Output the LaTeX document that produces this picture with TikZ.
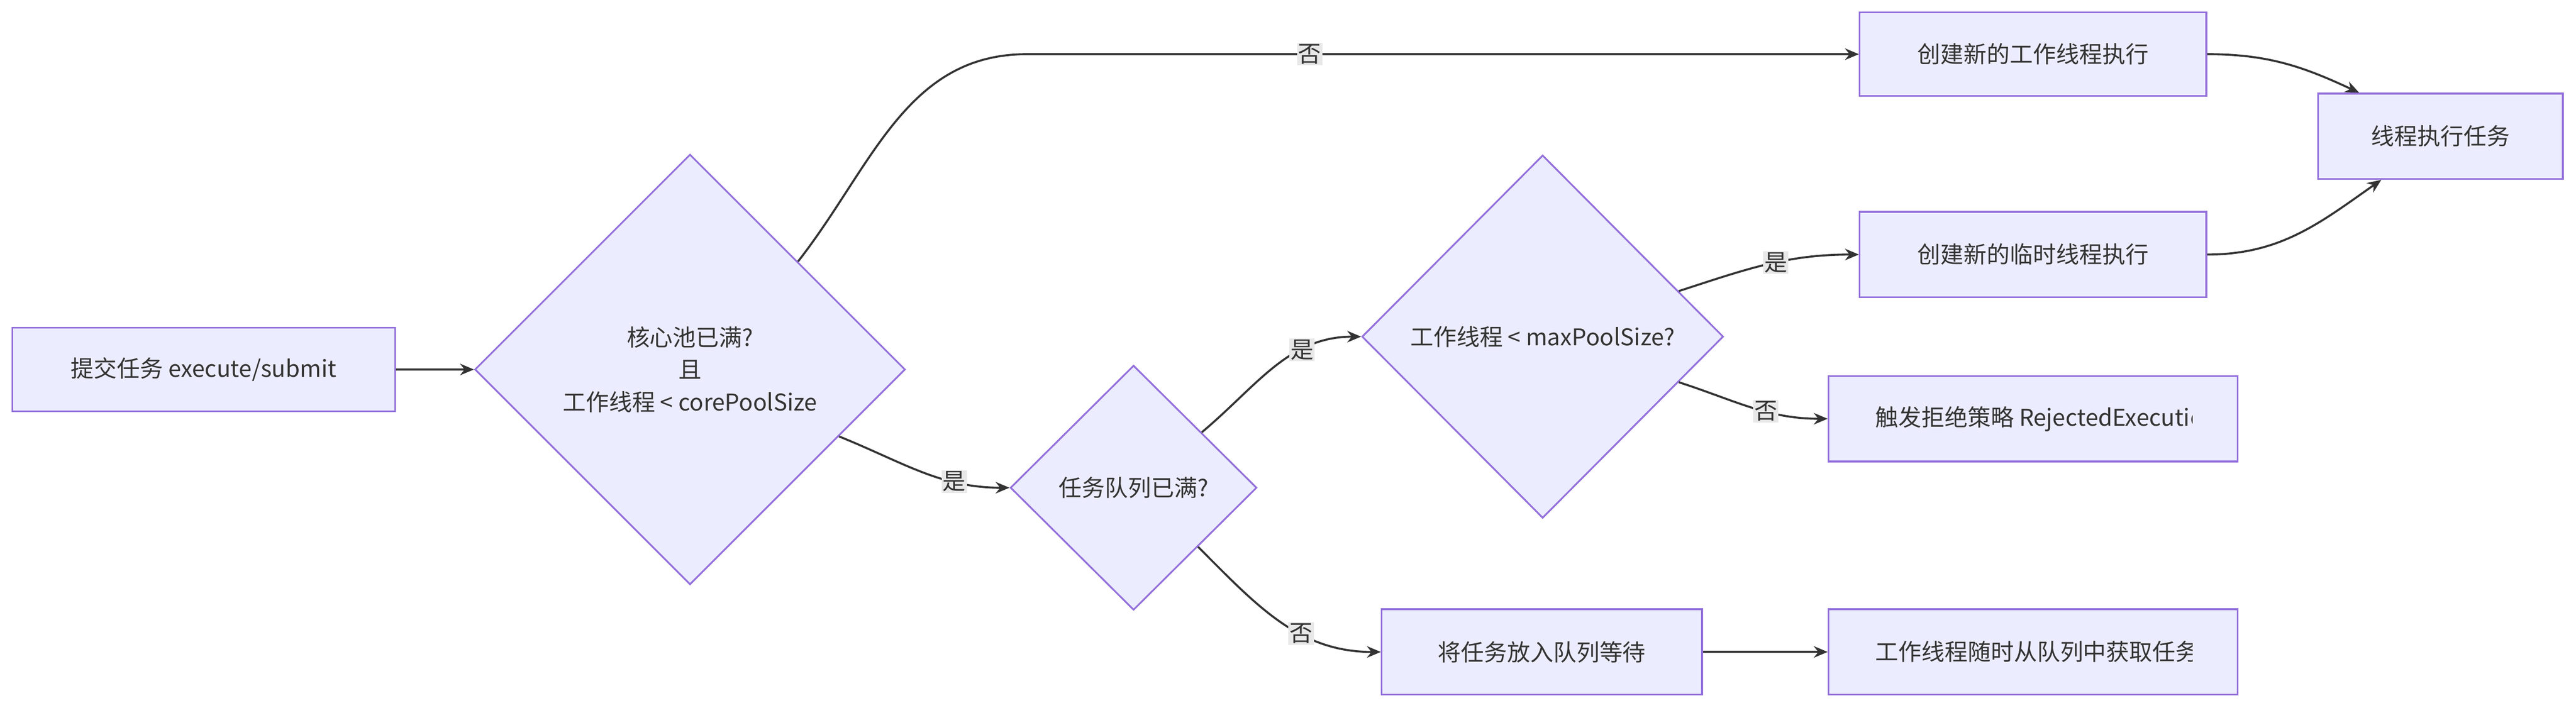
\documentclass[tikz,border=0pt]{standalone}
\usepackage{fontspec}
\setmainfont{Noto Sans CJK SC}
\usetikzlibrary{shapes.geometric,arrows.meta,calc}
\definecolor{nfill}{HTML}{ECECFF}
\definecolor{nline}{HTML}{9370DB}
\definecolor{eline}{HTML}{333333}
\definecolor{lbg}{HTML}{E8E8E8}
\begin{document}
\begin{tikzpicture}[x=0.1cm,y=0.1cm,
  every node/.style={font=\fontsize{40}{56}\selectfont, text=eline},
  box/.style={draw=nline,fill=nfill,line width=3pt,rectangle,inner sep=0},
  dia/.style={draw=nline,fill=nfill,line width=3pt,diamond,inner sep=0,align=center},
  arr/.style={draw=eline,line width=3.5pt,-{Stealth[length=24pt,width=20pt]}},
  lbl/.style={fill=lbg,inner sep=2pt}]
\useasboundingbox (0,0) rectangle (1568,431);
\fill[white] (0,0) rectangle (1568,431);
\node[box,minimum width=23.3cm,minimum height=5.1cm] (sub) at (124,206) {提交任务 execute/submit};
\node[dia,minimum width=26.2cm,minimum height=26.2cm] (d1) at (420,206) {核心池已满?\\且\\工作线程 < corePoolSize};
\node[dia,minimum width=15cm,minimum height=14.9cm] (d2) at (690,134) {任务队列已满?};
\node[dia,minimum width=22cm,minimum height=22.1cm] (d3) at (939,226) {工作线程 < maxPoolSize?};
\node[box,minimum width=21.1cm,minimum height=5.1cm] (w1) at (1237.5,398) {创建新的工作线程执行};
\node[box,minimum width=14.9cm,minimum height=5.2cm] (ex) at (1485.5,348) {线程执行任务};
\node[box,minimum width=21.1cm,minimum height=5.2cm] (tmp) at (1237.5,276) {创建新的临时线程执行};
\node[box,minimum width=24.9cm,minimum height=5.2cm] (rej) at (1237.5,176) {};
\node[box,minimum width=19.5cm,minimum height=5.2cm] (q) at (938.5,34) {将任务放入队列等待};
\node[box,minimum width=24.9cm,minimum height=5.2cm] (fe) at (1237.5,34) {};
\begin{scope}
\clip (rej.south west) rectangle ($(rej.north east)+(-28,0)$);
\node[anchor=west,inner sep=0] (rejt) at ($(rej.west)+(29,0)$) {触发拒绝策略 RejectedExecutionHandler};
\end{scope}
\begin{scope}
\clip (fe.south west) rectangle ($(fe.north east)+(-28,0)$);
\node[anchor=west,inner sep=0] (fet) at ($(fe.west)+(29,0)$) {工作线程随时从队列中获取任务};
\end{scope}
\coordinate (k1) at (625,398);
\draw[arr] (sub.east) -- (d1.west);
\draw[arr] (d1.north east) to[out=52,in=180] (k1) -- node[lbl,pos=0.34]{否} (w1.west);
\draw[arr] ($(d1.east)!0.31!(d1.south)$) to[out=-22,in=180] node[lbl,pos=0.7]{是} (d2.west);
\draw[arr] ($(d2.east)!0.45!(d2.north)$) to[out=40,in=180] node[lbl,pos=0.68]{是} (d3.west);
\draw[arr] ($(d2.east)!0.48!(d2.south)$) to[out=-45,in=180] node[lbl,pos=0.62]{否} (q.west);
\draw[arr] ($(d3.east)!0.25!(d3.north)$) to[out=18,in=180] node[lbl,pos=0.55]{是} (tmp.west);
\draw[arr] ($(d3.east)!0.25!(d3.south)$) to[out=-18,in=180] node[lbl,pos=0.6]{否} (rej.west);
\draw[arr] (q.east) -- (fe.west);
\draw[arr] (w1.east) to[out=0,in=155] ($(ex.north west)!0.17!(ex.north east)$);
\draw[arr] (tmp.east) to[out=0,in=215] ($(ex.south west)!0.26!(ex.south east)$);
\end{tikzpicture}
\end{document}
